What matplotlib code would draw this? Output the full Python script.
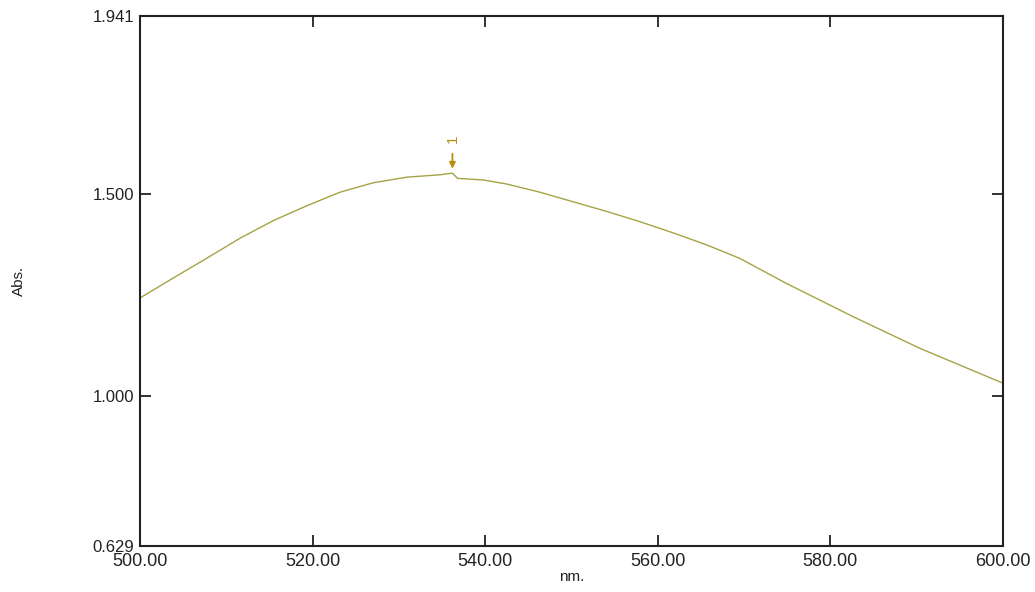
import numpy as np
import matplotlib
matplotlib.use("Agg")
import matplotlib.pyplot as plt

plt.rcParams['font.family'] = ['Liberation Sans', 'DejaVu Sans']

# spectrum
wavelength = [500.0, 503.9, 507.7, 511.6, 515.4, 519.3, 523.2, 527.0, 530.9, 534.8, 536.2, 536.8,
              539.8, 542.5, 546.3, 550.2, 554.1, 557.9, 561.8, 565.7, 569.5, 574.9, 582.6, 590.4,
              600.0]
absorbance = [1.243, 1.293, 1.341, 1.391, 1.434, 1.471, 1.505, 1.528, 1.542, 1.548, 1.552, 1.539,
              1.535, 1.525, 1.505, 1.481, 1.457, 1.432, 1.404, 1.374, 1.341, 1.279, 1.197, 1.118,
              1.032]
peak_nm = 536.2
peak_abs = 1.552
peak_label = "1"

x_ticks = [500, 520, 540, 560, 580, 600]
x_ticklabels = ["500.00", "520.00", "540.00", "560.00", "580.00", "600.00"]
y_ticks = [0.629, 1.000, 1.500, 1.941]
y_ticklabels = ["0.629", "1.000", "1.500", "1.941"]

fig = plt.figure(figsize=(10.35, 5.92), dpi=100)
ax = fig.add_axes([0.1353, 0.0777, 0.8338, 0.8953])

ax.plot(wavelength, absorbance, color='#a6a246', lw=1.0)

# peak pick marker
ax.annotate("", xy=(peak_nm, peak_abs + 0.004), xytext=(peak_nm, peak_abs + 0.055),
            arrowprops=dict(arrowstyle='-|>', color='#b8900a', lw=1.3, mutation_scale=9))
ax.text(peak_nm, peak_abs + 0.085, peak_label, rotation=90, color='#b8900a',
        ha='center', va='center', fontsize=11)

ax.set_xlim(500, 600)
ax.set_ylim(0.629, 1.941)
ax.set_xticks(x_ticks)
ax.set_xticklabels(x_ticklabels)
ax.set_yticks(y_ticks)
ax.set_yticklabels(y_ticklabels)
ax.tick_params(direction='in', length=8, width=1.3, top=True, right=True,
               colors='#222222', pad=4)
ax.tick_params(axis='x', labelsize=13, pad=5)
ax.tick_params(axis='y', labelsize=12)

for s in ax.spines.values():
    s.set_linewidth(1.5)
    s.set_color('#222222')

ax.set_xlabel("nm.", fontsize=11, labelpad=0, color='#222222')
ax.set_ylabel("Abs.", fontsize=11, labelpad=48, color='#222222')

fig.savefig("out.png", dpi=100, facecolor='white')
